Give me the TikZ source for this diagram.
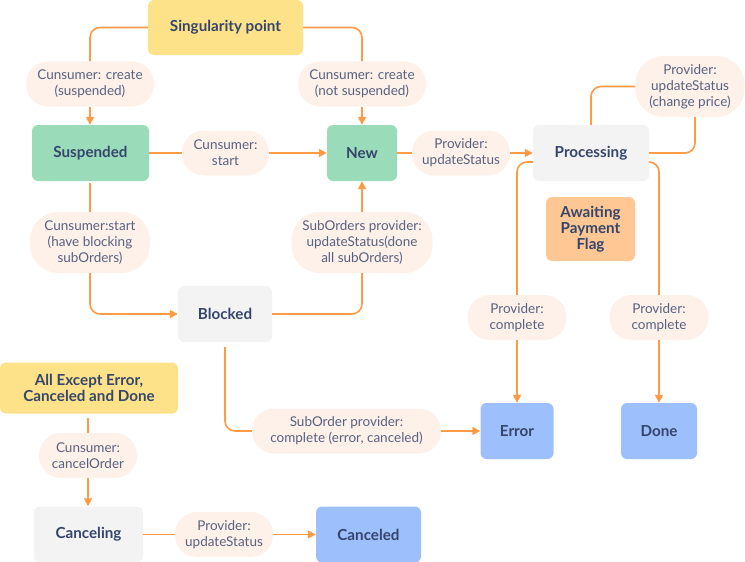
\documentclass[tikz,border=0pt]{standalone}
\usepackage{fontspec}
\setmainfont{Lato}
\usetikzlibrary{arrows.meta}
\definecolor{cyellow}{HTML}{FDE28A}
\definecolor{cgreen}{HTML}{9ADBB9}
\definecolor{cgray}{HTML}{F3F3F4}
\definecolor{corange}{HTML}{FEC794}
\definecolor{cblue}{HTML}{9DC0FC}
\definecolor{clabel}{HTML}{FEF1EA}
\definecolor{cline}{HTML}{FF9A46}
\definecolor{ctext}{HTML}{35456B}
\definecolor{cltext}{HTML}{58627F}
\begin{document}
\begin{tikzpicture}[x=1pt,y=-1pt,
 state/.style={rectangle, rounded corners=6pt, inner sep=0pt, align=center, font=\fontsize{15.2}{16}\selectfont\bfseries, text=ctext},
 lbl/.style={rectangle, rounded corners=22pt, fill=clabel, inner sep=0pt, align=center, font=\fontsize{13.5}{16}\selectfont, text=cltext, minimum height=45pt},
 lblthree/.style={lbl, rounded corners=28pt, minimum height=61pt},
 conn/.style={draw=cline, line width=1.6pt, rounded corners=10pt},
 arr/.style={conn, -{Triangle[length=8pt,width=8pt]}},
]
\useasboundingbox (0,0) rectangle (745,562);
% states
\node[state, fill=cyellow, minimum width=155pt, minimum height=55pt] (sing) at (225.5,27.5) {Singularity point};
\node[state, fill=cgreen, minimum width=117pt, minimum height=56pt] (susp) at (90.5,153) {Suspended};
\node[state, fill=cgreen, minimum width=70pt, minimum height=56pt] (new) at (362,153) {New};
\node[state, fill=cgray, minimum width=116pt, minimum height=56pt] (proc) at (591,153) {Processing};
\node[state, fill=corange, minimum width=89pt, minimum height=64pt] (flag) at (590.5,229) {Awaiting\\Payment\\Flag};
\node[state, fill=cgray, minimum width=94pt, minimum height=56pt] (blocked) at (225,314) {Blocked};
\node[state, fill=cyellow, minimum width=178pt, minimum height=51pt] (allx) at (89,388) {All Except Error,\\Canceled and Done};
\node[state, fill=cblue, minimum width=73pt, minimum height=56pt] (error) at (517,431) {Error};
\node[state, fill=cblue, minimum width=76pt, minimum height=56pt] (done) at (659,431) {Done};
\node[state, fill=cgray, minimum width=109pt, minimum height=56pt] (canceling) at (88.5,534.5) {Canceling};
\node[state, fill=cblue, minimum width=105pt, minimum height=56pt] (canceled) at (368.5,534.5) {Canceled};
% labels
\node[lbl, minimum width=128pt] (l1) at (90,84) {Cunsumer: create\\(suspended)};
\node[lbl, minimum width=128pt] (l2) at (362,84) {Cunsumer: create\\(not suspended)};
\node[lbl, minimum width=87pt] (l3) at (225.5,153) {Cunsumer:\\start};
\node[lbl, minimum width=98pt] (l4) at (461,153) {Provider:\\updateStatus};
\node[lblthree, minimum width=109pt] (l5) at (690,86.5) {Provider:\\updateStatus\\(change price)};
\node[lblthree, minimum width=120pt] (l8) at (90,242.5) {Cunsumer:start\\(have blocking\\subOrders)};
\node[lblthree, minimum width=141pt] (l9) at (362,242.5) {SubOrders provider:\\updateStatus(done\\all subOrders)};
\node[lbl, minimum width=99pt] (l6) at (517,317.5) {Provider:\\complete};
\node[lbl, minimum width=99pt] (l7) at (659,317.5) {Provider:\\complete};
\node[lbl, minimum width=189pt] (l10) at (346.5,431) {SubOrder provider:\\complete (error, canceled)};
\node[lbl, minimum width=98pt] (l11) at (88,455.5) {Cunsumer:\\cancelOrder};
\node[lbl, minimum width=98pt] (l12) at (224,534.5) {Provider:\\updateStatus};
% connectors
\draw[conn] (sing.west) -| (l1.north);
\draw[arr] (l1.south) -- (susp.north -| l1.south);
\draw[conn] (sing.east) -| (l2.north);
\draw[arr] (l2.south) -- (new.north);
\draw[conn] (susp.east) -- (l3.west);
\draw[arr] (l3.east) -- (new.west);
\draw[conn] (new.east) -- (l4.west);
\draw[arr] (l4.east) -- (proc.west);
\draw[conn] (proc.north) |- (l5.west);
\draw[conn] ([xshift=5pt]l5.south) |- (proc.east);
\draw[conn] ([yshift=-9pt]proc.west) -| (l6.north);
\draw[arr] (l6.south) -- (error.north);
\draw[conn] ([yshift=-9pt]proc.east) -| (l7.north);
\draw[arr] (l7.south) -- (done.north);
\draw[conn] ([yshift=-2pt]susp.south -| l8.north) -- (l8.north);
\draw[arr] (l8.south) |- (blocked.west);
\draw[conn] (blocked.east) -| (l9.south);
\draw[arr] (l9.north) -- (new.south);
\draw[conn] ([yshift=-5pt]blocked.south) |- (l10.west);
\draw[arr] (l10.east) -- (error.west);
\draw[conn] ([yshift=-4pt]allx.south -| l11.north) -- (l11.north);
\draw[arr] (l11.south) -- (canceling.north -| l11.south);
\draw[conn] (canceling.east) -- (l12.west);
\draw[arr] (l12.east) -- (canceled.west);
\end{tikzpicture}
\end{document}
